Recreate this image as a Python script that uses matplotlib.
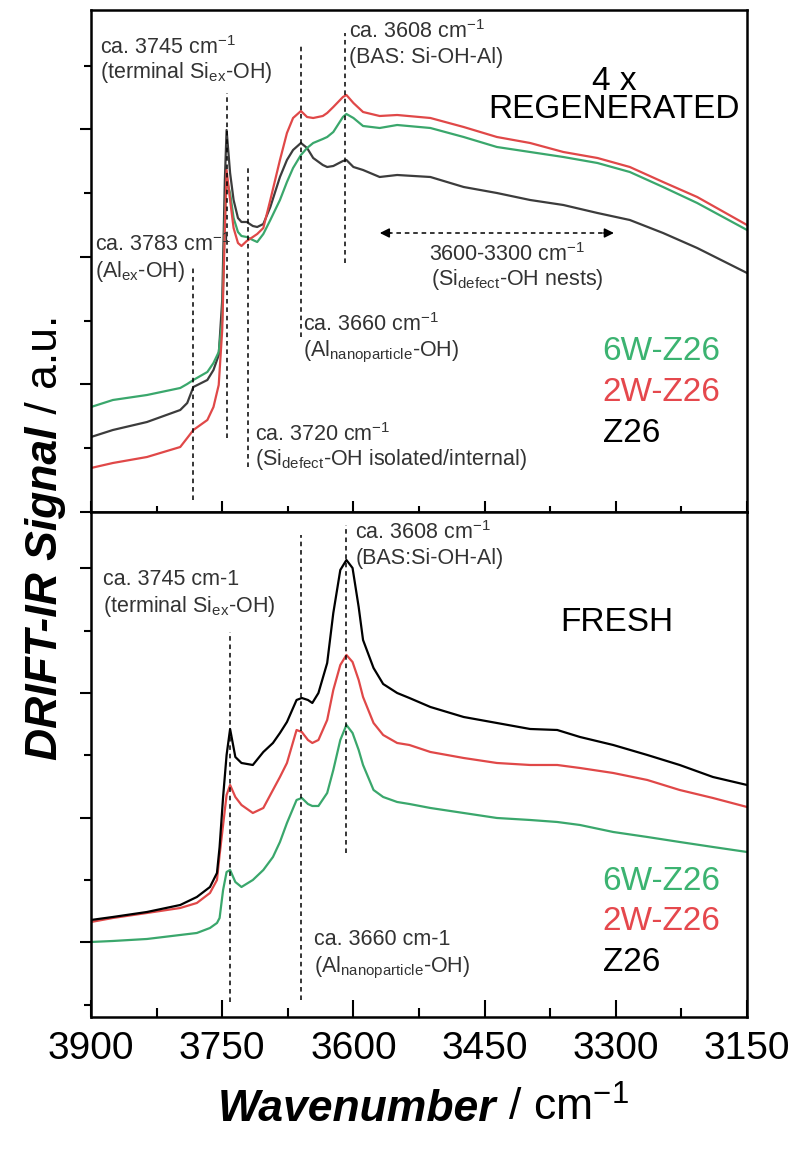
import matplotlib
matplotlib.use('Agg')
import matplotlib.pyplot as plt
from matplotlib.ticker import MultipleLocator

plt.rcParams['font.family'] = ['Liberation Sans', 'DejaVu Sans']
plt.rcParams['mathtext.fontset'] = 'custom'
plt.rcParams['mathtext.rm'] = 'Liberation Sans'
plt.rcParams['mathtext.it'] = 'Liberation Sans:italic'
plt.rcParams['mathtext.bf'] = 'Liberation Sans:bold'

# ---------------- data: 4x REGENERATED (top panel) ----------------
wn_regen = [3900, 3875, 3836, 3798, 3790, 3783, 3767, 3760, 3754, 3750, 3747, 3745,
            3741, 3737, 3732, 3728, 3722, 3715, 3710, 3703, 3695, 3684, 3676, 3669,
            3660, 3653, 3646, 3635, 3630, 3623, 3612, 3608, 3600, 3589, 3570, 3550,
            3512, 3474, 3436, 3398, 3360, 3321, 3284, 3246, 3207, 3150]
regen_6w = [105, 112, 117, 124, 128, 132, 140, 149, 160, 192, 292, 332,
            319, 294, 280, 276, 275, 272, 270, 278, 292, 312, 330, 344,
            357, 364, 369, 373, 375, 380, 395, 398, 394, 386, 384, 387,
            384, 375, 365, 360, 355, 349, 340, 325, 309, 282]
regen_2w = [44, 49, 55, 65, 74, 82, 92, 105, 127, 182, 282, 342,
            312, 284, 269, 266, 271, 275, 278, 284, 312, 352, 379, 394,
            401, 395, 394, 396, 399, 405, 415, 417, 409, 400, 396, 397,
            394, 385, 375, 369, 360, 354, 345, 330, 315, 287]
regen_z26 = [75, 82, 90, 102, 109, 125, 132, 142, 157, 212, 332, 382,
             339, 312, 294, 290, 290, 286, 285, 288, 305, 335, 352, 362,
             369, 364, 354, 347, 345, 346, 351, 352, 345, 342, 335, 337,
             335, 325, 319, 312, 307, 299, 292, 279, 264, 239]

# ---------------- data: FRESH (bottom panel) ----------------
wn_fresh = [3900, 3875, 3836, 3798, 3779, 3764, 3756, 3753, 3749, 3745, 3741, 3735,
            3728, 3715, 3703, 3692, 3684, 3676, 3665, 3659, 3652, 3647, 3640, 3630,
            3623, 3615, 3608, 3601, 3594, 3589, 3577, 3566, 3550, 3536, 3512, 3474,
            3436, 3398, 3367, 3341, 3303, 3264, 3227, 3189, 3150]
fresh_z26 = [147, 150, 155, 162, 170, 180, 194, 220, 270, 312, 338, 310,
             304, 302, 315, 324, 334, 345, 367, 369, 367, 364, 374, 404,
             454, 497, 507, 499, 460, 427, 399, 383, 374, 369, 360, 350,
             344, 338, 337, 330, 322, 312, 302, 290, 282]
fresh_2w = [145, 149, 154, 159, 164, 174, 187, 212, 242, 272, 282, 270,
            262, 254, 259, 277, 290, 304, 337, 335, 327, 324, 327, 347,
            377, 402, 412, 405, 387, 370, 344, 332, 324, 322, 315, 309,
            304, 302, 302, 299, 294, 287, 277, 269, 260]
fresh_6w = [125, 126, 128, 132, 134, 139, 144, 149, 177, 195, 197, 185,
            180, 187, 197, 210, 225, 244, 267, 269, 263, 261, 261, 274,
            297, 327, 342, 334, 317, 302, 277, 270, 265, 263, 259, 254,
            249, 247, 245, 242, 235, 230, 225, 220, 215]

sample_labels = ['6W-Z26', '2W-Z26', 'Z26']
x_ticks = [3900, 3750, 3600, 3450, 3300, 3150]

C_GREEN = '#3aa76c'
C_RED = '#e04848'
C_GRAY = '#3c3c3c'
C_TXT = '#333333'

fig = plt.figure(figsize=(7.97, 11.49), dpi=100)
ax1 = fig.add_axes([0.1142, 0.5544, 0.8231, 0.4369])
ax2 = fig.add_axes([0.1142, 0.1149, 0.8231, 0.4395])

lw = 1.6
ax1.plot(wn_regen, regen_z26, color=C_GRAY, lw=lw)
ax1.plot(wn_regen, regen_6w, color=C_GREEN, lw=lw)
ax1.plot(wn_regen, regen_2w, color=C_RED, lw=lw)

ax2.plot(wn_fresh, fresh_6w, color=C_GREEN, lw=lw)
ax2.plot(wn_fresh, fresh_2w, color=C_RED, lw=lw)
ax2.plot(wn_fresh, fresh_z26, color='black', lw=lw)

ax1.set_ylim(0, 502)
ax2.set_ylim(50, 555)

for ax in (ax1, ax2):
    ax.set_xlim(3900, 3150)
    ax.xaxis.set_major_locator(MultipleLocator(150))
    ax.xaxis.set_minor_locator(MultipleLocator(75))
    for s in ax.spines.values():
        s.set_linewidth(1.8)
    ax.tick_params(axis='y', which='both', direction='out', labelleft=False, width=1.5)
    ax.tick_params(axis='y', which='major', length=8)
    ax.tick_params(axis='y', which='minor', length=5)

ax1.yaxis.set_major_locator(MultipleLocator(127.5))
ax1.yaxis.set_minor_locator(MultipleLocator(63.75))
ax2.yaxis.set_major_locator(MultipleLocator(124.7))
ax2.yaxis.set_minor_locator(MultipleLocator(62.35))

ax1.tick_params(axis='x', which='both', direction='in', labelbottom=False, width=1.5)
ax1.tick_params(axis='x', which='major', length=8)
ax1.tick_params(axis='x', which='minor', length=4.5)
ax2.tick_params(axis='x', which='both', direction='in', width=1.5)
ax2.tick_params(axis='x', which='major', length=12, labelsize=28, pad=10)
ax2.tick_params(axis='x', which='minor', length=6.5)
ax2.set_xticks(x_ticks)
ax2.set_xticklabels([str(t) for t in x_ticks])

# dashed guide lines
dash = dict(color='black', lw=1.1, linestyle=(0, (3, 2.5)))
ax1.plot([3783, 3783], [12, 245], **dash)
ax1.plot([3745, 3745], [74, 419], **dash)
ax1.plot([3720, 3720], [45, 345], **dash)
ax1.plot([3660, 3660], [175, 469], **dash)
ax1.plot([3610, 3610], [249, 479], **dash)
ax2.plot([3741, 3741], [65, 435], **dash)
ax2.plot([3660, 3660], [67, 532], **dash)
ax2.plot([3608, 3608], [214, 542], **dash)

# double-headed dashed arrow 3600-3300
ax1.plot([3560, 3312], [279, 279], **dash)
ax1.annotate('', xy=(3573, 279), xytext=(3555, 279),
             arrowprops=dict(arrowstyle='-|>', color='black', lw=1.1, mutation_scale=14))
ax1.annotate('', xy=(3299, 279), xytext=(3317, 279),
             arrowprops=dict(arrowstyle='-|>', color='black', lw=1.1, mutation_scale=14))

fs = 15.5
def note(ax, x, y, s, ha='left', **kw):
    ax.text(x, y, s, ha=ha, va='center', fontsize=fs, color=C_TXT, **kw)

# top annotations
note(ax1, 3890, 464, r'ca. 3745 cm$^{-1}$')
note(ax1, 3890, 439, r'(terminal Si$_{\rm ex}$-OH)')
note(ax1, 3605, 480, r'ca. 3608 cm$^{-1}$')
note(ax1, 3605, 454, r'(BAS: Si-OH-Al)')
note(ax1, 3424, 257, r'3600-3300 cm$^{-1}$', ha='center')
note(ax1, 3413, 232, r'(Si$_{\rm defect}$-OH nests)', ha='center')
note(ax1, 3895, 267, r'ca. 3783 cm$^{-1}$')
note(ax1, 3895, 240, r'(Al$_{\rm ex}$-OH)')
note(ax1, 3658, 187, r'ca. 3660 cm$^{-1}$')
note(ax1, 3658, 160, r'(Al$_{\rm nanoparticle}$-OH)')
note(ax1, 3712, 77, r'ca. 3720 cm$^{-1}$')
note(ax1, 3712, 52, r'(Si$_{\rm defect}$-OH isolated/internal)')
ax1.text(3302, 430, '4 x', ha='center', va='center', fontsize=24, color='black')
ax1.text(3302, 402, 'REGENERATED', ha='center', va='center', fontsize=24, color='black')

# bottom annotations
note(ax2, 3598, 534, r'ca. 3608 cm$^{-1}$')
note(ax2, 3598, 508, r'(BAS:Si-OH-Al)')
note(ax2, 3886, 487, 'ca. 3745 cm-1')
note(ax2, 3886, 460, r'(terminal Si$_{\rm ex}$-OH)')
note(ax2, 3645, 127, 'ca. 3660 cm-1')
note(ax2, 3645, 99, r'(Al$_{\rm nanoparticle}$-OH)')
ax2.text(3299, 444, 'FRESH', ha='center', va='center', fontsize=24, color='black')

# sample labels
leg_colors = ['#3cb371', '#e5484d', 'black']
for lab, c, y in zip(sample_labels, leg_colors, [160, 119, 78]):
    ax1.text(3315, y, lab, ha='left', va='center', fontsize=24, color=c)
for lab, c, y in zip(sample_labels, leg_colors, [185, 145, 104]):
    ax2.text(3315, y, lab, ha='left', va='center', fontsize=24, color=c)

# axis labels with mixed styles
xl_x = 496 / 797
xl_y = (1149 - 1121) / 1149
fig.text(xl_x, xl_y, 'Wavenumber', ha='right', va='baseline', fontsize=32,
         fontweight='bold', fontstyle='italic')
fig.text(xl_x, xl_y, r' / cm$^{-1}$', ha='left', va='baseline', fontsize=32)

yl_x = 57 / 797
yl_y = (1149 - 426) / 1149
fig.text(yl_x, yl_y, 'DRIFT-IR Signal', ha='right', va='baseline', fontsize=32,
         fontweight='bold', fontstyle='italic', rotation=90, rotation_mode='anchor')
fig.text(yl_x, yl_y, ' / a.u.', ha='left', va='baseline', fontsize=32,
         rotation=90, rotation_mode='anchor')

fig.savefig('out.png', dpi=100)
